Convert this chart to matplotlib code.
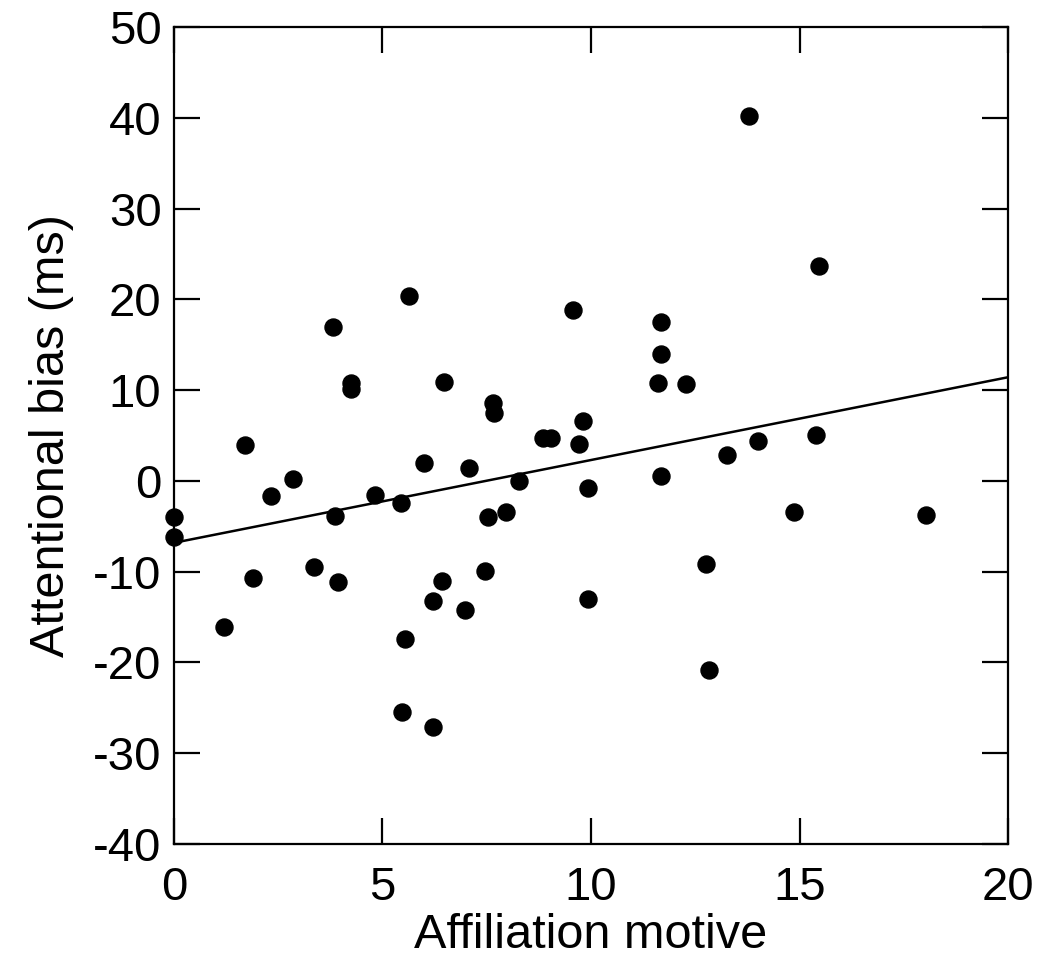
import numpy as np
import matplotlib.pyplot as plt

plt.rcParams['font.family'] = ['Liberation Sans', 'DejaVu Sans']
plt.rcParams['axes.unicode_minus'] = False

# affiliation motive (x) and attentional bias in ms (y)
affiliation = [0.0, 0.0, 1.2, 1.7, 1.9, 2.33, 2.86, 3.36, 3.82, 3.87, 3.94,
               4.25, 4.25, 4.83, 5.45, 5.47, 5.55, 5.64, 6.0, 6.2, 6.22,
               6.43, 6.48, 6.99, 7.08, 7.47, 7.54, 7.66, 7.68, 7.95, 8.28,
               8.86, 9.05, 9.58, 9.72, 9.8, 9.92, 9.92, 11.6, 11.67, 11.67,
               11.69, 12.27, 12.75, 12.82, 13.25, 13.78, 14.0, 14.86, 15.39,
               15.46, 18.03]
bias = [-4.0, -6.2, -16.1, 4.0, -10.7, -1.65, 0.2, -9.5, 17.0, -3.9, -11.1,
        10.8, 10.1, -1.5, -2.4, -25.4, -17.4, 20.4, 2.0, -27.1, -13.2,
        -11.0, 10.9, -14.2, 1.4, -9.9, -4.0, 8.6, 7.5, -3.4, 0.0,
        4.7, 4.7, 18.8, 4.1, 6.6, -0.8, -13.0, 10.8, 14.0, 17.5,
        0.55, 10.7, -9.2, -20.8, 2.9, 40.2, 4.4, -3.4, 5.1,
        23.7, -3.8]

# least squares line
slope, intercept = np.polyfit(affiliation, bias, 1)

fig = plt.figure(figsize=(10.45, 9.73), dpi=100)
ax = fig.add_axes([0.1665, 0.1325, 0.7981, 0.8398])

ax.scatter(affiliation, bias, s=150, color='black', zorder=3, clip_on=False)
xl = np.array([0, 20])
ax.plot(xl, intercept + slope * xl, color='black', lw=1.8)

ax.set_xlim(0, 20)
ax.set_ylim(-40, 50)
ax.set_xticks([0, 5, 10, 15, 20])
ax.set_yticks(range(-40, 51, 10))
ax.tick_params(direction='in', length=18.5, width=1.6, top=True, right=True,
               labelsize=34)
ax.tick_params(axis='x', pad=16)
ax.tick_params(axis='y', pad=9)
for s in ax.spines.values():
    s.set_linewidth(1.6)

ax.set_xlabel('Affiliation motive', fontsize=35, labelpad=2)
ax.set_ylabel('Attentional bias (ms)', fontsize=35, labelpad=14)

fig.savefig('out.png', dpi=100)
